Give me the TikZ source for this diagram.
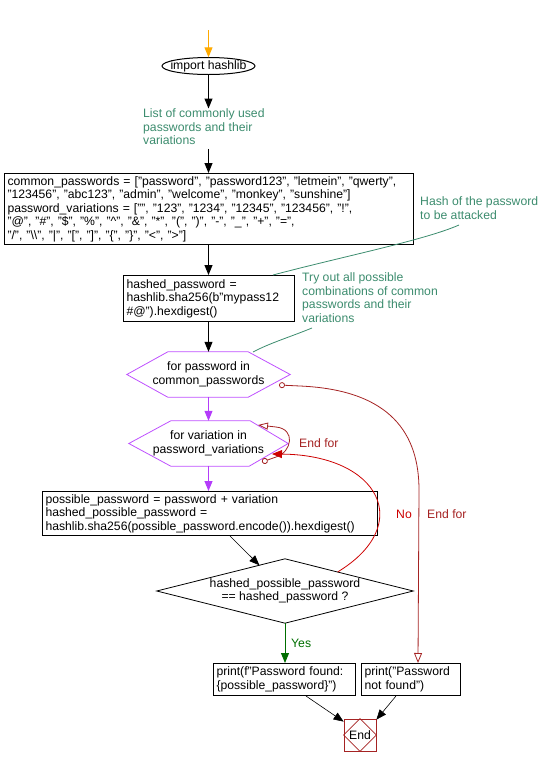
\documentclass[tikz,border=0pt]{standalone}
\usepackage{fontspec}
\setmainfont{Liberation Sans}
\usetikzlibrary{arrows.meta,shapes.geometric,calc}
\definecolor{cgreen}{RGB}{60,140,110}
\definecolor{dred}{RGB}{165,35,35}
\definecolor{lred}{RGB}{205,0,0}
\definecolor{hpurple}{RGB}{190,80,255}
\definecolor{apurple}{RGB}{180,60,250}
\definecolor{sorange}{RGB}{255,170,0}
\definecolor{ygreen}{RGB}{0,110,0}
\begin{document}
\begin{tikzpicture}[x=1pt,y=-1pt,font=\fontsize{12.2}{13.5}\selectfont,
  box/.style={draw,line width=1pt,rectangle,inner xsep=3pt,inner ysep=0pt,align=left,anchor=north west},
  cmt/.style={text=cgreen,inner sep=0pt,align=left,anchor=north west},
  hexbox/.style={rectangle,inner sep=0pt,align=center},
  hexline/.style={draw=hpurple,line width=0.8pt},
  arr/.style={line width=1pt,-{Triangle[length=10pt,width=8pt]}},
  thinarr/.style={line width=0.6pt,-{Triangle[length=10pt,width=8pt]}},
  cline/.style={draw=cgreen,line width=0.8pt},
  lbl/.style={inner sep=0pt,anchor=west}
]
\useasboundingbox (0,0) rectangle (553,766);

% start
\coordinate (st) at (208.5,30);
\node[rectangle,minimum width=93pt,minimum height=17pt,inner sep=0pt] (imp) at (208.5,66) {import hashlib};
\draw[line width=1pt] (imp.center) ellipse [x radius=46.5pt, y radius=8.5pt];
\draw[arr,sorange] (st) -- (imp.north);

\node[cmt] (c1) at (143,108.5) {List of commonly used\\passwords and their\\variations};
\draw[arr] (imp.south) -- (imp.south |- c1.north);

\node[box,minimum width=409pt,minimum height=71pt,text width=403pt] (b1) at (4,173)
 {common\_passwords = ["password", "password123", "letmein", "qwerty",\\
 "123456", "abc123", "admin", "welcome", "monkey", "sunshine"]\\
 password\_variations = ["", "123", "1234", "12345", "123456", "!",\\
 "@", "\#", "\$", "\%", "\textasciicircum", "\&", "*", "(", ")", "-", "\_", "+", "=",\\
 "/", "\textbackslash\textbackslash", "|", "[", "]", "\{", "\}", "<", ">"]};
\coordinate (c1b) at ($(imp.south |- c1.south)+(0,4)$);
\draw[arr] (c1b) -- (c1b |- b1.north);

\node[box,minimum width=171pt,minimum height=46pt,text width=165pt] (b2) at (123,275)
 {hashed\_password =\\hashlib.sha256(b"mypass12\\\#@").hexdigest()};
\draw[arr] (imp.south |- b1.south) -- (imp.south |- b2.north);

\node[cmt] (c2) at (420,196.5) {Hash of the password\\to be attacked};
\coordinate (c2a) at (459,225);
\coordinate (c2b) at (273,275);
\draw[cline] (c2a) .. controls (425,240) and (345,256) .. (c2b);

\node[cmt] (c3) at (302,272.5) {Try out all possible\\combinations of common\\passwords and their\\variations};
\coordinate (c3a) at (312,328);
\coordinate (c3b) at (253,352);
\draw[cline] (c3a) .. controls (290,337) and (270,343) .. (c3b);

% hexagon 1
\node[hexbox,minimum width=163pt,minimum height=45pt] (h1) at (208.5,374.5) {for password in\\common\_passwords};
\draw[hexline] (h1.west) -- ($(h1.north west)+(41,0)$) -- ($(h1.north east)+(-42,0)$) -- (h1.east)
  -- ($(h1.south east)+(-42,0)$) -- ($(h1.south west)+(41,0)$) -- cycle;
\draw[arr] (imp.south |- b2.south) -- (h1.north);

% hexagon 2
\node[hexbox,minimum width=159pt,minimum height=45pt] (h2) at (208.5,443.5) {for variation in\\password\_variations};
\draw[hexline] (h2.west) -- ($(h2.north west)+(42,0)$) -- ($(h2.north east)+(-38,0)$) -- (h2.east)
  -- ($(h2.south east)+(-39,0)$) -- ($(h2.south west)+(42,0)$) -- cycle;
\draw[arr,apurple] (h1.south) -- (h2.north);

% box 3
\node[box,minimum width=335pt,minimum height=44pt,text width=329pt] (b3) at (42,491)
 {possible\_password = password + variation\\hashed\_possible\_password =\\hashlib.sha256(possible\_password.encode()).hexdigest()};
\draw[arr,apurple] (h2.south) -- (h2.south |- b3.north);

% decision
\node[rectangle,minimum width=256pt,minimum height=64pt,inner sep=0pt,align=center] (d) at (285,591)
 {hashed\_possible\_password\\== hashed\_password ?};
\draw[line width=0.8pt] (d.north) -- (d.east) -- (d.south) -- (d.west) -- cycle;
\draw[thinarr] ($(b3.south west)+(188,0)$) -- ($(d.north)!0.2!(d.west)$);

% outputs
\node[box,minimum width=142pt,minimum height=32pt,text width=136pt] (b4) at (213,663)
 {print(f"Password found:\\\{possible\_password\}")};
\node[box,minimum width=99pt,minimum height=32pt,text width=93pt] (b5) at (361,663)
 {print("Password\\not found")};
\draw[arr,ygreen] (d.south) -- (d.south |- b4.north);
\node[lbl,text=ygreen] at (291,643) {Yes};

% end
\node[draw=dred,line width=0.8pt,rectangle,minimum width=32pt,minimum height=32pt,inner sep=0pt] (e) at (360,735) {End};
\draw[dred,line width=0.8pt] (e.north) -- (e.east) -- (e.south) -- (e.west) -- cycle;
\draw[thinarr] ($(b4.south west)+(93,0)$) -- ($(e.north west)+(0,3)$);
\draw[thinarr] ($(b5.south west)+(35,0)$) -- ($(e.north east)+(0,1)$);

% loops
\coordinate (h1o) at (279,385);
\coordinate (nf) at (418,663);
\draw[dred,line width=0.8pt,{Circle[open,length=6pt,width=6pt]}-{Triangle[open,length=10pt,width=8pt]}]
  (h1o) -- (300,386) .. controls (392,390) and (419,435) .. (419,490) -- (nf);
\node[lbl,text=dred] at (427,514) {End for};

\coordinate (h2o) at (262,462);
\coordinate (h2i) at (258,425);
\draw[dred,line width=0.8pt,{Circle[open,length=6pt,width=6pt]}-{Triangle[open,length=10pt,width=7pt]}]
  (h2o) -- (276,457) .. controls (292,452) and (296,429) .. (276,427) -- (h2i);
\node[lbl,text=dred] at (299,443) {End for};

\coordinate (h2r) at (272,454);
\draw[lred,line width=0.8pt,-{Triangle[length=10pt,width=8pt]}]
  ($(d.north)!0.41!(d.east)$) .. controls (415,525) and (380,455) .. (h2r);
\node[lbl,text=lred] at (396,514) {No};
\end{tikzpicture}
\end{document}
